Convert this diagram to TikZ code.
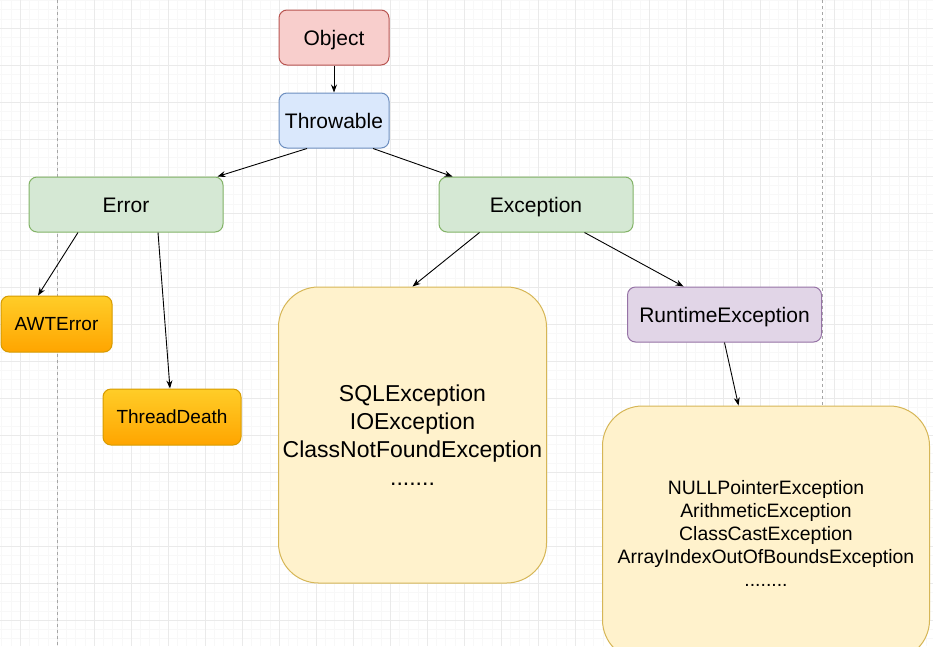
\documentclass[tikz,border=0pt]{standalone}
\usepackage{fontspec}
\setmainfont{Liberation Sans}
\usepackage{xcolor}
\usetikzlibrary{arrows.meta,positioning}

\definecolor{objfill}{HTML}{F8CECC}\definecolor{objdraw}{HTML}{B85450}
\definecolor{thrfill}{HTML}{DAE8FC}\definecolor{thrdraw}{HTML}{6C8EBF}
\definecolor{grnfill}{HTML}{D5E8D4}\definecolor{grndraw}{HTML}{82B366}
\definecolor{purfill}{HTML}{E1D5E7}\definecolor{purdraw}{HTML}{9673A6}
\definecolor{ylwfill}{HTML}{FFF2CC}\definecolor{ylwdraw}{HTML}{D6B656}
\definecolor{orgtop}{HTML}{FFCD28}\definecolor{orgbot}{HTML}{FFA500}\definecolor{orgdraw}{HTML}{D79B00}
\definecolor{minorgrid}{HTML}{F8F8F8}\definecolor{majorgrid}{HTML}{EAEAEA}

\begin{document}
\begin{tikzpicture}[x=1pt, y=-1pt, >={Stealth[length=8pt,width=6pt]},
 box/.style={draw, rounded corners=8pt, align=center, minimum width=194pt, minimum height=55pt, inner sep=2pt, line width=1pt, text height=18pt, text depth=3pt, font=\fontsize{21}{25}\selectfont},
 small/.style={box, minimum width=110pt},
 thrown/.style={box, top color=orgtop, bottom color=orgbot, draw=orgdraw, minimum height=56pt, text height=16.6pt, font=\fontsize{19}{23}\selectfont},
 group/.style={draw=ylwdraw, fill=ylwfill, rounded corners=40pt, align=center, line width=1pt, inner sep=0pt},
 line/.style={->, line width=0.9pt}]
\useasboundingbox (0,0) rectangle (933,646);
\clip (0,0) rectangle (933,646);
% background grid
\fill[white] (0,0) rectangle (933,646);
\foreach \gx in {0,...,100} \draw[minorgrid, line width=0.7pt] ({1.8+\gx*9.25},0) -- ++(0,646);
\foreach \gy in {0,...,70} \draw[minorgrid, line width=0.7pt] (0,{0.55+\gy*9.25}) -- ++(933,0);
\foreach \gx in {0,...,24} \draw[majorgrid, line width=1pt] ({20.3+\gx*37},0) -- ++(0,646);
\foreach \gy in {0,...,16} \draw[majorgrid, line width=1pt] (0,{28.3+\gy*37}) -- ++(933,0);
\draw[gray!70, line width=0.8pt, dash pattern=on 3pt off 3pt] (57,0) -- (57,646);
\draw[gray!70, line width=0.8pt, dash pattern=on 3pt off 3pt] (822,0) -- (822,646);

% classes
\node[small, fill=objfill, draw=objdraw] (obj) at (334,37.5) {Object};
\node[small, fill=thrfill, draw=thrdraw, below=27pt of obj] (thr) {Throwable};
\node[box, fill=grnfill, draw=grndraw, below left=28pt and 55pt of thr] (err) {Error};
\node[box, fill=grnfill, draw=grndraw, below right=28pt and 49pt of thr] (exc) {Exception};
\node[thrown, minimum width=111pt] (awt) at (56.5,324) {AWTError};
\node[thrown, minimum width=138pt] (thd) at (172,417) {ThreadDeath};
\node[group, minimum width=268pt, minimum height=296pt, font=\fontsize{23}{28}\selectfont, below=54pt of exc, xshift=-123.5pt] (chk) {SQLException\\IOException\\ClassNotFoundException\\.......};
\node[box, fill=purfill, draw=purdraw, below=54pt of exc, xshift=188.5pt] (rte) {RuntimeException};
\node[group, minimum width=327pt, minimum height=254pt, font=\fontsize{19.4}{23}\selectfont, below=63pt of rte, xshift=41.5pt] (unc) {NULLPointerException\\ArithmeticException\\ClassCastException\\ArrayIndexOutOfBoundsException\\........};

% inheritance
\draw[line] (obj) -- (thr);
\draw[line] ([xshift=-27pt]thr.south) -- ([xshift=-6pt]err.north east);
\draw[line] ([xshift=39pt]thr.south) -- ([xshift=14pt]exc.north west);
\draw[line] ([xshift=-48pt]err.south) -- ([xshift=-18.5pt]awt.north);
\draw[line] ([xshift=32pt]err.south) -- ([xshift=-2pt]thd.north);
\draw[line] ([xshift=-56.5pt]exc.south) -- (chk.north);
\draw[line] ([xshift=48.5pt]exc.south) -- ([xshift=-41pt]rte.north);
\draw[line] (rte.south) -- ([xshift=-27.5pt]unc.north);
\end{tikzpicture}
\end{document}
